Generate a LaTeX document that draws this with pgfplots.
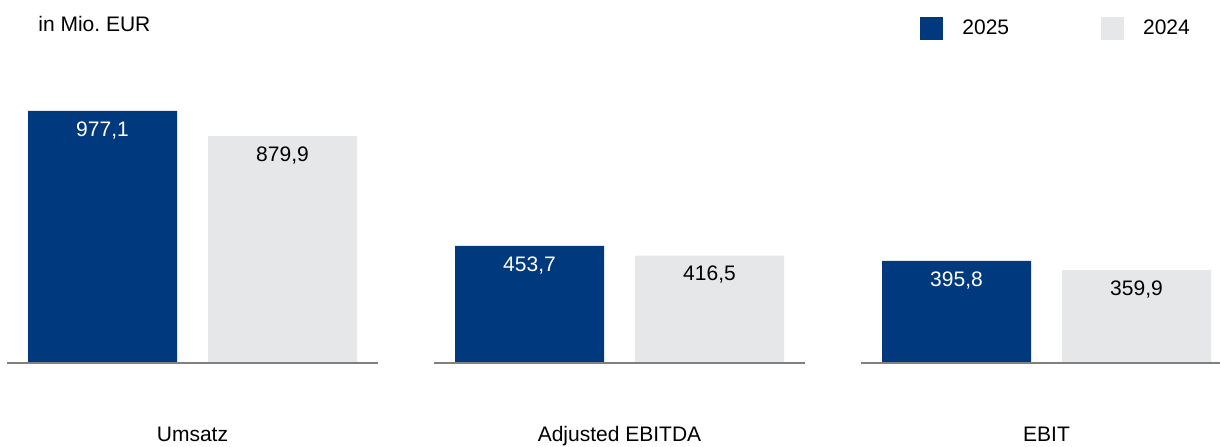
\documentclass[border=0pt]{standalone}
\usepackage{pgfplots}
\pgfplotsset{compat=1.18}
\usepackage{fontspec}
\setmainfont{Liberation Sans}
\definecolor{c25}{RGB}{0,57,125}
\definecolor{c24}{RGB}{230,231,232}
\definecolor{baseln}{RGB}{128,128,128}
\begin{document}
\begin{tikzpicture}
\begin{axis}[
  width=610pt, height=223pt, scale only axis,
  xmin=0, xmax=1220, ymin=-321.7, ymax=1407.4,
  hide axis, clip=false,
  ybar, bar width=149, bar shift=0pt,
  font=\fontsize{10.5}{12.6}\selectfont,
  /pgf/number format/.cd, use comma, fixed, fixed zerofill, precision=1, assume math mode=true,
  /pgfplots/.cd,
  legend columns=2,
  legend style={draw=none, fill=none, inner sep=0pt, at={(axis cs:920,1296)}, anchor=west,
    nodes={inner sep=0pt, font=\fontsize{10.5}{12.6}\selectfont},
    /tikz/every odd column/.append style={column sep=9.5pt},
    /tikz/every even column/.append style={column sep=46pt}},
  legend image code/.code={\fill[#1] (0pt,-6pt) rectangle (11.5pt,5.5pt);},
]
\addplot[fill=c25, draw=none, nodes near coords, point meta=y,
  every node near coord/.append style={anchor=base, yshift=-12.85pt, text=white}]
  coordinates {(102.5,977.1) (529.5,453.7) (956.5,395.8)};
\addlegendentry{2025}
\addplot[fill=c24, draw=none, nodes near coords, point meta=y,
  every node near coord/.append style={anchor=base, yshift=-12.7pt, text=black}]
  coordinates {(282.5,879.9) (709.5,416.5) (1136.5,359.9)};
\addlegendentry{2024}
\draw[baseln, line width=1pt] (axis cs:7,0) -- (axis cs:378,0);
\draw[baseln, line width=1pt] (axis cs:434,0) -- (axis cs:805,0);
\draw[baseln, line width=1pt] (axis cs:861,0) -- (axis cs:1220,0);
\node[anchor=base west, inner sep=0pt] at (axis cs:38,1287) {in Mio.\ EUR};
\node[anchor=base, inner sep=0pt] at (axis cs:192.5,-302.3) {Umsatz};
\node[anchor=base, inner sep=0pt] at (axis cs:619.5,-302.3) {Adjusted EBITDA};
\node[anchor=base, inner sep=0pt] at (axis cs:1046.5,-302.3) {EBIT};
\coordinate (SW) at (rel axis cs:0,0);
\coordinate (NE) at (rel axis cs:1,1);
\end{axis}
\pgfresetboundingbox
\path (SW) rectangle (NE);
\end{tikzpicture}
\end{document}
